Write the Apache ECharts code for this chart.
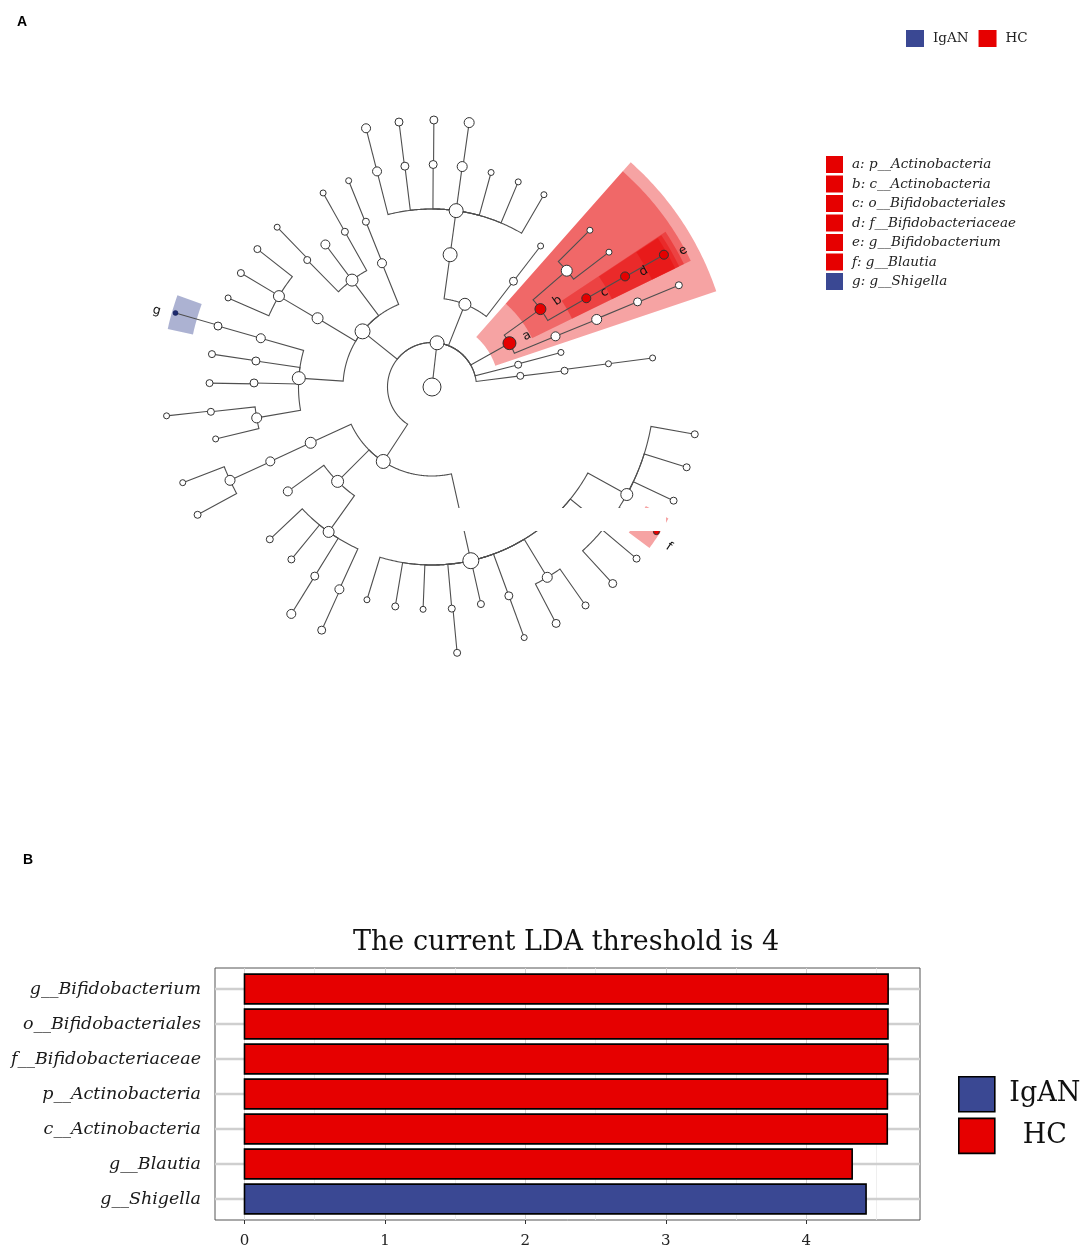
<!DOCTYPE html>
<html><head><meta charset="utf-8">
<script src="https://cdn.jsdelivr.net/npm/echarts@6/dist/echarts.min.js"></script>
<style>html,body{margin:0;padding:0;background:#fff}#c{width:1084px;height:1251px}</style>
</head><body><div id="c"></div>
<script>
// ---------------- Panel B : LDA scores ----------------
const barCategories = ['g__Bifidobacterium','o__Bifidobacteriales','f__Bifidobacteriaceae','p__Actinobacteria','c__Actinobacteria','g__Blautia','g__Shigella'];
const barLDA = [4.583, 4.582, 4.582, 4.578, 4.577, 4.327, 4.426];
const barGroup = ['HC','HC','HC','HC','HC','HC','IgAN'];
const xTickValues = [0, 1, 2, 3, 4];
const xMinorValues = [0.5, 1.5, 2.5, 3.5, 4.5];
const groupNames = ['IgAN', 'HC'];

// ---------------- Panel A : cladogram ----------------
// node i : parent index, taxonomic depth (0 = centre), angular position (deg), abundance score
const nodeParent = [-1,0,1,1,1,1,1,1,2,2,8,8,10,10,11,14,9,16,17,3,3,19,21,21,21,21,21,21,21,22,23,24,25,20,6,7,35,36,4,38,39,4,41,42,41,41,45,4,47,48,48,48,4,52,53,54,52,56,52,58,52,60,61,60,5,64,65,66,66,5,69,69,71,71,71,74,71,76,5,78,79,79,79,79,83,79,79,86,79,88,88,79,91,91,79,94,94,94,94];
const nodeLevel  = [0,1,2,2,2,2,2,2,3,3,4,4,5,5,5,6,4,5,6,3,3,4,5,5,5,5,5,5,5,6,6,6,6,4,3,3,4,5,3,4,5,3,4,5,4,4,5,3,4,5,5,5,3,4,5,6,4,5,4,5,4,5,6,5,3,4,5,6,6,3,4,4,5,5,5,6,5,6,3,4,5,5,5,5,6,5,5,6,5,6,6,5,6,6,5,6,6,6,6];
const nodeAngle  = [90,83.5,29.5,68.3,141.3,236.8,14.5,7.2,35.7,22.3,40.8,29.9,44.8,37.3,29.8,29.7,22.3,22.5,22.4,82.2,52.4,82.2,104.3,97.0,89.7,82.2,74.6,67.2,59.8,104.3,97.1,89.6,82.0,52.4,15.0,7.0,7.5,7.5,112.0,111.8,112.0,126.8,119.3,119.3,126.8,134.5,134.1,149.0,149.3,141.7,149.2,156.4,176.2,164.1,164.1,163.9,171.6,171.5,178.7,179.0,190.0,186.4,186.2,193.5,204.7,204.7,204.8,201.0,208.6,225.0,215.9,234.5,223.2,230.8,238.2,238.2,245.4,245.6,282.6,282.6,253.0,260.5,267.7,275.1,275.4,282.7,290.2,290.2,301.2,297.7,305.1,321.0,312.6,320.0,331.1,327.2,334.8,342.5,349.8];
const nodeAbundance = [18,14,13,12,15,14,7,7,11,9,11,9,6,6,9,9,10,8,7,14,8,14,9,8,8,10,6,6,6,9,8,8,10,6,6,7,6,6,9,7,6,12,7,6,9,7,6,11,11,7,7,6,13,9,8,5,8,7,8,7,10,7,6,6,11,9,10,6,7,12,9,11,7,7,8,9,9,8,10,16,6,7,6,7,7,7,8,6,10,8,7,6,8,7,12,6,7,7,7];
const nodeGroup = Array(nodeParent.length).fill('');
// highlighted biomarkers
const cladeLetters = ['a','b','c','d','e','f','g'];
const cladeTaxa = ['p__Actinobacteria','c__Actinobacteria','o__Bifidobacteriales','f__Bifidobacteriaceae','g__Bifidobacterium','g__Blautia','g__Shigella'];
const cladeNode = [2, 8, 11, 14, 15, 95, 55];
const cladeGroup = ['HC','HC','HC','HC','HC','HC','IgAN'];
cladeNode.forEach((n, k) => { nodeGroup[n] = cladeGroup[k]; });

// ---------------- styling constants ----------------
const COLORS = { HC: '#e60000', IgAN: '#3a4893' };
const NODE_FILL = { '': '#ffffff', HC: '#e60000', IgAN: '#1d2a6e' };
const SECTOR_OUTER = { 2: 6.74, 3: 6.47, 4: 6.3, 5: 6.18, 6: 6.08 };
const HALF_SLOT = 3.7;

const children = nodeParent.map(() => []);
nodeParent.forEach((p, i) => { if (p >= 0) children[p].push(i); });
function subtreeSpan(n) {
  let lo = nodeAngle[n], hi = nodeAngle[n];
  const st = [n];
  while (st.length) { const m = st.pop(); lo = Math.min(lo, nodeAngle[m]); hi = Math.max(hi, nodeAngle[m]); children[m].forEach(c => st.push(c)); }
  return [lo - HALF_SLOT, hi + HALF_SLOT];
}

const chart = echarts.init(document.getElementById('c'), null, { renderer: 'canvas' });

function renderEdge(params, api) {
  const i = api.value(2);
  const p = nodeParent[i];
  const Lp = nodeLevel[p], Lc = nodeLevel[i];
  const a0 = nodeAngle[p], a1 = nodeAngle[i];
  const pts = [];
  if (Lp > 0) {
    const n = Math.max(1, Math.ceil(Math.abs(a1 - a0) / 0.5));
    for (let k = 0; k <= n; k++) pts.push(api.coord([Lp, a0 + (a1 - a0) * k / n]));
  } else {
    pts.push(api.coord([0, a1]));
  }
  pts.push(api.coord([Lc, a1]));
  return { type: 'polyline', shape: { points: pts }, style: { stroke: '#4f4f4f', lineWidth: 1.1, fill: null } };
}

function makeSectorRenderer(k) {
  return function (params, api) {
    const n = api.value(2);
    const L = nodeLevel[n];
    const [lo, hi] = subtreeSpan(n);
    const r0 = L - 0.5, r1 = SECTOR_OUTER[L];
    const pts = [];
    const steps = Math.max(2, Math.ceil((hi - lo) / 0.5));
    for (let s = 0; s <= steps; s++) pts.push(api.coord([r1, lo + (hi - lo) * s / steps]));
    for (let s = steps; s >= 0; s--) pts.push(api.coord([r0, lo + (hi - lo) * s / steps]));
    return { type: 'polygon', shape: { points: pts }, style: { fill: COLORS[cladeGroup[k]], opacity: cladeGroup[k] === 'HC' ? 0.36 : 0.42 } };
  };
}

function renderLetter(params, api) {
  const n = api.value(2);
  const k = api.value(3);
  const left = nodeAngle[n] > 90 && nodeAngle[n] < 270;
  const ang = nodeAngle[n] + (left ? 0.6 : -1.2);
  const pt = api.coord([nodeLevel[n] + 0.42, ang]);
  const rot = left ? ang - 180 : ang;
  return { type: 'text', x: pt[0], y: pt[1], rotation: rot * Math.PI / 180,
    style: { text: cladeLetters[k], fill: '#111', font: '12.5px "DejaVu Sans"', align: 'center', verticalAlign: 'middle' } };
}

function renderBar(params, api) {
  const v = api.value(0), pos = api.value(1), g = api.value(2);
  const s = api.coord([0, pos]);
  const e = api.coord([v, pos]);
  const h = api.size([0, 0.85])[1];
  return { type: 'rect', shape: { x: s[0], y: s[1] - h / 2, width: e[0] - s[0], height: h },
    style: { fill: COLORS[groupNames[g]], stroke: '#000', lineWidth: 1.6 } };
}

const series = [];
cladeNode.forEach((n, k) => {
  series.push({
    name: cladeLetters[k] + ': ' + cladeTaxa[k], type: 'custom', coordinateSystem: 'polar', z: 1, silent: true,
    data: [[nodeLevel[n], nodeAngle[n], n]], renderItem: makeSectorRenderer(k), encode: { radius: 0, angle: 1 }
  });
});
series.push({
  name: 'branches', type: 'custom', coordinateSystem: 'polar', z: 2, silent: true,
  data: nodeParent.map((p, i) => [nodeLevel[i], nodeAngle[i], i]).filter(d => nodeParent[d[2]] >= 0),
  renderItem: renderEdge, encode: { radius: 0, angle: 1 }
});
series.push({
  name: 'nodes', type: 'scatter', coordinateSystem: 'polar', z: 3, silent: true,
  data: nodeLevel.map((L, i) => ({ value: [L, nodeAngle[i]],
    symbolSize: nodeAbundance[i],
    itemStyle: { color: NODE_FILL[nodeGroup[i]], borderColor: nodeGroup[i] === 'IgAN' ? '#101a50' : '#333333', borderWidth: nodeGroup[i] === 'IgAN' ? 0.5 : 1, opacity: 1 } }))
});
series.push({
  name: 'letters', type: 'custom', coordinateSystem: 'polar', z: 4, silent: true,
  data: cladeNode.map((n, k) => [nodeLevel[n], nodeAngle[n], n, k]),
  renderItem: renderLetter, encode: { radius: 0, angle: 1 }
});
groupNames.forEach((g, gi) => {
  const s = {
    name: g, type: 'custom', coordinateSystem: 'cartesian2d', xAxisIndex: 0, yAxisIndex: 0, z: 3, silent: true,
    data: barLDA.map((v, i) => [v, i + 1, gi]).filter((d, i) => barGroup[i] === g),
    renderItem: renderBar, encode: { x: 0, y: 1 }
  };
  if (g === 'HC') {
    s.markLine = {
      z: 1, silent: true, symbol: ['none', 'none'], label: { show: false }, animation: false,
      data: [
        ...xMinorValues.map(v => ({ xAxis: v, lineStyle: { color: '#ebebeb', width: 0.8, type: 'solid' } })),
        ...xTickValues.map(v => ({ xAxis: v, lineStyle: { color: '#d4d4d4', width: 1, type: 'solid' } })),
        ...barCategories.map((c, i) => ({ yAxis: i + 1, lineStyle: { color: '#cfcfcf', width: 2.4, type: 'solid' } }))
      ]
    };
  }
  series.push(s);
});

const serif = '"DejaVu Serif", serif';
const option = {
  animation: false,
  backgroundColor: '#ffffff',
  title: [
    { text: 'A', left: 17, top: 15, padding: 0, textStyle: { fontFamily: '"Liberation Sans", Arial', fontWeight: 'bold', fontSize: 14, color: '#000' } },
    { text: 'B', left: 23, top: 853, padding: 0, textStyle: { fontFamily: '"Liberation Sans", Arial', fontWeight: 'bold', fontSize: 14, color: '#000' } },
    { text: 'The current LDA threshold is 4', left: 566, textAlign: 'center', top: 929, padding: 0, textStyle: { fontFamily: serif, fontWeight: 'normal', fontSize: 27, color: '#111' } }
  ],
  legend: [
    { data: groupNames.map(g => ({ name: g, itemStyle: { color: COLORS[g], borderWidth: 0 } })), left: 906, top: 30, orient: 'horizontal', padding: 0,
      icon: 'rect', itemWidth: 18, itemHeight: 17, itemGap: 10, selectedMode: false,
      textStyle: { fontFamily: serif, fontSize: 13.5, color: '#222', padding: [0, 0, 0, 4] } },
    { data: cladeNode.map((n, k) => ({ name: cladeLetters[k] + ': ' + cladeTaxa[k], itemStyle: { color: COLORS[cladeGroup[k]], opacity: 1, borderWidth: 0 } })),
      left: 826, top: 156, orient: 'vertical', padding: 0, icon: 'rect', itemWidth: 17, itemHeight: 17, itemGap: 2.5, selectedMode: false,
      textStyle: { fontFamily: serif, fontStyle: 'italic', fontSize: 13.5, color: '#222', padding: [0, 0, 0, 4] } },
    { data: groupNames.map(g => ({ name: g, itemStyle: { color: COLORS[g], borderColor: '#000', borderWidth: 1.6 } })), left: 958, top: 1076, orient: 'vertical', padding: 0,
      icon: 'rect', itemWidth: 36, itemHeight: 35, itemGap: 5, selectedMode: false,
      formatter: name => '{t|' + name + '}',
      textStyle: { rich: { t: { fontFamily: serif, fontSize: 27, color: '#111', width: 90, height: 35, lineHeight: 35, align: 'center' } } } }
  ],
  polar: { center: [432, 387], radius: 267 },
  angleAxis: { type: 'value', min: 0, max: 360, startAngle: 0, clockwise: false, show: false },
  radiusAxis: { type: 'value', min: 0, max: 6, show: false },
  grid: { left: 215, top: 968, width: 705, height: 252, show: true, borderColor: '#555', borderWidth: 1, backgroundColor: 'transparent', containLabel: false },
  xAxis: { type: 'value', gridIndex: 0, min: -0.21, max: 4.81,
    axisLine: { show: false }, splitLine: { show: false },
    axisTick: { show: true, customValues: xTickValues, length: 4, lineStyle: { color: '#333' } },
    axisLabel: { customValues: xTickValues, fontFamily: serif, fontSize: 15, color: '#222', margin: 14 } },
  yAxis: { type: 'value', gridIndex: 0, min: 0.4, max: 7.6, inverse: true,
    axisLine: { show: false }, splitLine: { show: false },
    axisTick: { show: true, customValues: [1, 2, 3, 4, 5, 6, 7], length: 4, lineStyle: { color: '#333' } },
    axisLabel: { customValues: [1, 2, 3, 4, 5, 6, 7], formatter: v => barCategories[Math.round(v) - 1] || '',
      fontFamily: serif, fontStyle: 'italic', fontSize: 17.5, color: '#1a1a1a', margin: 14 } },
  graphic: [
    { type: 'rect', z: 100, silent: true, shape: { x: 442, y: 508, width: 224, height: 23 }, style: { fill: '#ffffff' } }
  ],
  series: series
};
chart.setOption(option);
</script>
</body></html>
